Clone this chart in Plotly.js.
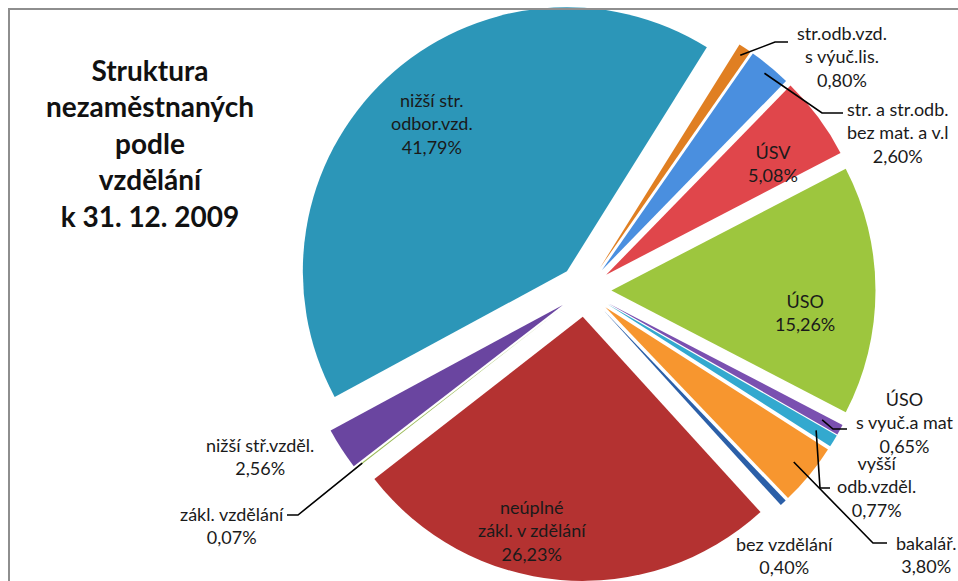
<!DOCTYPE html>
<html>
<head>
<meta charset="utf-8">
<script src="https://cdn.plot.ly/plotly-3.0.1.min.js"></script>
<style>
  html, body { margin: 0; padding: 0; background: #ffffff; }
  #chart { width: 958px; height: 581px; }
</style>
</head>
<body>
<div id="chart"></div>
<script>
// ---- data (clockwise from top-right) ----
const categories = [
  "str.odb.vzd. s výuč.lis.",
  "str. a str.odb. bez mat. a v.l",
  "ÚSV",
  "ÚSO",
  "ÚSO s vyuč.a mat",
  "vyšší odb.vzděl.",
  "bakalář.",
  "bez vzdělání",
  "neúplné zákl. v zdělání",
  "zákl. vzdělání",
  "nižší stř.vzděl.",
  "nižší str. odbor.vzd."
];
const values = [0.80, 2.60, 5.08, 15.26, 0.65, 0.77, 3.80, 0.40, 26.23, 0.07, 2.56, 41.79];
const labelLines = [
  ["str.odb.vzd.", "s výuč.lis."],
  ["str. a str.odb.", "bez mat. a v.l"],
  ["ÚSV"],
  ["ÚSO"],
  ["ÚSO", "s vyuč.a mat"],
  ["vyšší", "odb.vzděl."],
  ["bakalář."],
  ["bez vzdělání"],
  ["neúplné", "zákl. v zdělání"],
  ["zákl. vzdělání"],
  ["nižší stř.vzděl."],
  ["nižší str.", "odbor.vzd."]
];
const colors = ["#E07F22", "#4A8FDF", "#E0464B", "#9DC63E", "#7A50B0", "#33A9CF",
                "#F7962F", "#2B5FA8", "#B43231", "#9BBB59", "#6A45A0", "#2C96B8"];
const titleLines = ["Struktura", "nezaměstnaných", "podle", "vzdělání", "k 31. 12. 2009"];

// ---- layout / styling ----
const W = 958, H = 581;
const ROT = 32, PULL = 0.1;
const CX = 585, CY = 290.5, HALF = 290.5;
const dom = { x: [(CX - HALF) / W, (CX + HALF) / W], y: [1 - (CY + HALF) / H, 1 - (CY - HALF) / H] };
const R = (2 * HALF) / (2 + 2 * PULL);
const total = values.reduce((a, b) => a + b, 0);
const cum = []; values.reduce((acc, v, i) => { cum[i] = acc; return acc + v; }, 0);

function fmt(v) { return v.toFixed(2).replace(".", ",") + "%"; }
function px(x) { return x / W; }
function py(y) { return 1 - y / H; }
function tip(i, frac) {
  const a = (ROT + (cum[i] + values[i] / 2) / total * 360) * Math.PI / 180;
  const rr = R * (1 + PULL) * frac;
  return [CX + rr * Math.sin(a), CY - rr * Math.cos(a)];
}

// label placement (pixel centres) and leader elbows
const labelPos = {
  0: { x: 842, y: 57 }, 1: { x: 898, y: 132 }, 2: { x: 773, y: 164 }, 3: { x: 805, y: 312 },
  4: { x: 905, y: 422 }, 5: { x: 876, y: 486 }, 6: { x: 926, y: 554 }, 7: { x: 784, y: 555 },
  8: { x: 532, y: 530 }, 9: { x: 232, y: 525 }, 10: { x: 260, y: 456 }, 11: { x: 432, y: 124 }
};
const leaders = {
  0: { frac: 0.97, pts: [[775, 42], [788, 42]] },
  1: { frac: 0.97, pts: [[822, 113], [843, 113]] },
  4: { frac: 0.93, pts: [[833, 429], [847, 429]] },
  5: { frac: 0.93, pts: [[820, 488], [830, 488]] },
  6: { frac: 0.93, pts: [[873, 543], [887, 543]] },
  9: { frac: 0.97, pts: [[298, 515], [287, 515]] }
};

const annotations = [];
annotations.push({
  text: titleLines.join("<br>"), x: px(150), y: py(143), xref: "paper", yref: "paper",
  xanchor: "center", yanchor: "middle", showarrow: false, align: "center",
  font: { family: "Lato, 'DejaVu Sans', sans-serif", size: 28, color: "#111111", weight: "bold" }
});
categories.forEach((c, i) => {
  const p = labelPos[i];
  annotations.push({
    text: labelLines[i].concat([fmt(values[i])]).join("<br>"),
    x: px(p.x), y: py(p.y), xref: "paper", yref: "paper",
    xanchor: "center", yanchor: "middle", showarrow: false, align: "center",
    font: { family: "Lato, 'DejaVu Sans', sans-serif", size: 18, color: "#1a1a1a" }
  });
});

const shapes = [{
  type: "rect", xref: "paper", yref: "paper", x0: px(9), x1: 1.05, y0: -0.05, y1: py(9),
  line: { color: "#8E8E8E", width: 2 }, fillcolor: "rgba(0,0,0,0)", layer: "above"
}];
Object.keys(leaders).forEach(k => {
  const L = leaders[k];
  const t = tip(+k, L.frac);
  let d = "M " + px(t[0]) + " " + py(t[1]);
  L.pts.forEach(q => { d += " L " + px(q[0]) + " " + py(q[1]); });
  shapes.push({ type: "path", xref: "paper", yref: "paper", path: d,
                line: { color: "#000000", width: 1.6 }, layer: "above" });
});

const trace = {
  type: "pie", values: values, labels: categories, sort: false, direction: "clockwise",
  rotation: ROT, pull: values.map(() => PULL),
  marker: { colors: colors, line: { color: "#ffffff", width: 0 } },
  textinfo: "none", hoverinfo: "label+percent", showlegend: false, domain: dom
};

const layout = {
  width: W, height: H, margin: { l: 0, r: 0, t: 0, b: 0 },
  paper_bgcolor: "#ffffff", plot_bgcolor: "#ffffff", showlegend: false,
  annotations: annotations, shapes: shapes
};
Plotly.newPlot("chart", [trace], layout, { displayModeBar: false, staticPlot: true });
</script>
</body>
</html>
